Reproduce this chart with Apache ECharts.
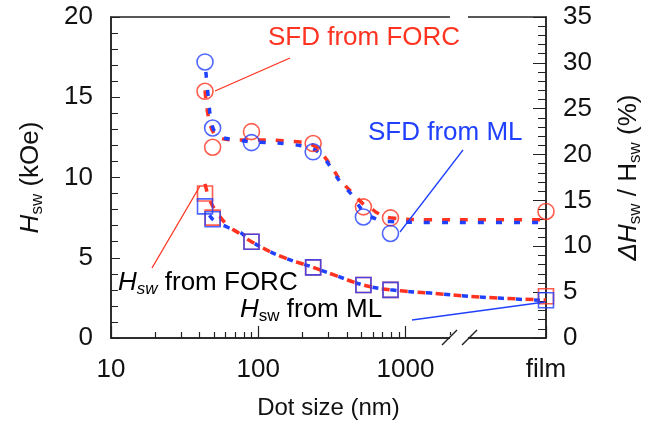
<html>
<head>
    <meta charset="utf-8">
    <title>Hsw vs dot size</title>
    <script src="https://cdn.jsdelivr.net/npm/echarts@6.0.0/dist/echarts.min.js"></script>
    <style>
        body { margin: 0; background: #fff; }
    </style>
</head>
<body>
    <div id="main" style="width: 672px;height:428px;"></div>
    <script type="text/javascript">
        // "film" is drawn at the right end of the log axis
        var FILM = 9000;
        var minorTicks = [20, 30, 40, 50, 60, 70, 80, 90, 200, 300, 400, 500, 600, 700, 800, 900, 2000];

        // measured points: dot size (nm)
        var dotSize = [43.5, 49, 90, 236, 518, 791, FILM];
        // Hsw (kOe) - left axis
        var hswForc = [9.0, 7.5, 6.0, 4.4, 3.3, 3.0, 2.6];
        var hswMl   = [8.2, 7.4, 6.0, 4.4, 3.3, 3.0, 2.35];
        // SFD dHsw/Hsw (%) - right axis
        var sfdForc = [26.9, 20.8, 22.5, 21.2, 14.3, 13.1, 13.8];
        var sfdMl   = [30.1, 22.9, 21.3, 20.3, 13.2, 11.4, null];

        // dashed guide curves
        var hswFitForcX = [43.5, 46, 50, 62, 72, 90, 141, 236, 334, 518, 791, 1480, 3240, FILM];
        var hswFitForcY = [9.6, 8.8, 8.1, 7.0, 6.6, 6.0, 5.1, 4.4, 3.9, 3.3, 3.0, 2.8, 2.55, 2.37];
        var hswFitMlX = [43.5, 49, 62, 75, 90, 141, 236, 334, 518, 791, 1480, 3240, FILM];
        var hswFitMlY = [8.2, 7.4, 6.9, 6.6, 6.0, 5.1, 4.4, 3.9, 3.3, 3.0, 2.8, 2.55, 2.33];
        var sfdFitForcX = [43.5, 46, 50, 55, 70, 90, 150, 236, 280, 325, 361, 443, 518, 576, 650, 791, 1500, 3000, FILM];
        var sfdFitForcY = [27.0, 24.0, 22.3, 21.8, 21.6, 21.6, 21.5, 21.0, 19.8, 18.3, 17.2, 15.7, 14.6, 14.2, 13.6, 13.1, 12.9, 12.9, 12.9];
        var sfdFitMlX = [43.5, 46, 49, 55, 70, 90, 150, 236, 280, 325, 361, 443, 518, 650, 791, 1500, 3000, FILM];
        var sfdFitMlY = [30.1, 26.0, 23.0, 22.0, 21.6, 21.4, 21.2, 20.6, 19.6, 18.1, 17.0, 15.4, 13.8, 12.9, 12.7, 12.6, 12.6, 12.6];

        var RED = '#ff3320';
        var BLUE = '#2040ff';
        var FONT = 'Liberation Sans, Arial, sans-serif';

        function pairs(xs, ys) {
            var out = [];
            for (var i = 0; i < xs.length; i++) {
                if (ys[i] != null) out.push([xs[i], ys[i]]);
            }
            return out;
        }

        function sub(color, italic) {
            return { fontSize: 17, fontFamily: FONT, fontStyle: italic ? 'italic' : 'normal', color: color, lineHeight: 8, verticalAlign: 'bottom' };
        }
        function big(color, italic) {
            return { fontSize: 26, fontFamily: FONT, fontStyle: italic ? 'italic' : 'normal', color: color, lineHeight: 30 };
        }

        var myChart = echarts.init(document.getElementById('main'));

        var option = {
            animation: false,
            grid: { left: 111, right: 126, top: 17, bottom: 90, show: true, borderColor: '#222', borderWidth: 1.5 },
            xAxis: [{
                type: 'log', min: 10, max: FILM, logBase: 10,
                name: 'Dot size (nm)', nameLocation: 'middle', nameGap: 58,
                nameTextStyle: { fontSize: 24, fontFamily: FONT, color: '#111' },
                axisLine: { show: true, onZero: false, lineStyle: { color: '#222', width: 1.5 } },
                axisTick: { show: true, inside: true, length: 12, lineStyle: { color: '#222', width: 1.2 } },
                axisLabel: {
                    fontSize: 26, fontFamily: FONT, color: '#111', margin: 19,
                    formatter: function (v) { return v > 5000 ? 'film' : String(Math.round(v)); }
                },
                splitLine: { show: false }
            }, {
                // minor ticks of the log axis, placed on a log10 value axis
                type: 'value', min: 1, max: Math.log10(FILM), position: 'bottom',
                axisLine: { show: false, onZero: false },
                axisTick: { show: true, inside: true, length: 6, customValues: minorTicks.map(Math.log10),
                            lineStyle: { color: '#222', width: 1.2 } },
                axisLabel: { show: false },
                splitLine: { show: false }
            }],
            yAxis: [{
                type: 'value', min: 0, max: 20, interval: 5,
                name: '{h|H}{s|sw}{n| (kOe)}', nameLocation: 'middle', nameGap: 65, nameRotate: 90,
                nameTextStyle: { rich: { h: big('#111', true), s: sub('#111', false), n: big('#111', false) } },
                axisLine: { show: true, lineStyle: { color: '#222', width: 1.5 } },
                axisTick: { show: true, inside: true, length: 9, lineStyle: { color: '#222' } },
                minorTick: { show: true, splitNumber: 5, length: 7, lineStyle: { color: '#222' } },
                axisLabel: { fontSize: 26, fontFamily: FONT, color: '#111', margin: 18 },
                splitLine: { show: false }
            }, {
                type: 'value', min: 0, max: 35, interval: 5, position: 'right',
                name: '{h|ΔH}{s|sw}{n| / H}{s|sw}{n| (%)}', nameLocation: 'middle', nameGap: 68, nameRotate: 90,
                nameTextStyle: { rich: { h: big('#111', true), s: sub('#111', false), n: big('#111', false) } },
                axisLine: { show: true, lineStyle: { color: '#222', width: 1.5 } },
                axisTick: { show: true, inside: true, length: 13, lineStyle: { color: '#222' } },
                minorTick: { show: true, splitNumber: 5, length: 8, lineStyle: { color: '#222' } },
                axisLabel: { fontSize: 26, fontFamily: FONT, color: '#111', margin: 17 },
                splitLine: { show: false }
            }],
            series: [
                // dashed guide curves
                { type: 'line', yAxisIndex: 1, data: pairs(sfdFitForcX, sfdFitForcY), smooth: 0.4, symbol: 'none',
                  lineStyle: { color: RED, width: 3.5, type: [8, 10] }, z: 2 },
                { type: 'line', yAxisIndex: 1, data: pairs(sfdFitMlX, sfdFitMlY), smooth: 0.4, symbol: 'none',
                  lineStyle: { color: BLUE, width: 3.5, type: [6, 12], dashOffset: 8 }, z: 3 },
                { type: 'line', yAxisIndex: 0, data: pairs(hswFitForcX, hswFitForcY), smooth: 0.4, symbol: 'none',
                  lineStyle: { color: RED, width: 3.5, type: [8, 10] }, z: 2 },
                { type: 'line', yAxisIndex: 0, data: pairs(hswFitMlX, hswFitMlY), smooth: 0.4, symbol: 'none',
                  lineStyle: { color: BLUE, width: 3.5, type: [6, 12], dashOffset: 8 }, z: 3 },
                // markers
                { type: 'scatter', yAxisIndex: 1, data: pairs(dotSize, sfdForc), symbol: 'circle', symbolSize: 16,
                  itemStyle: { color: 'rgba(0,0,0,0)', borderColor: RED, borderWidth: 1.6 }, z: 4 },
                { type: 'scatter', yAxisIndex: 1, data: pairs(dotSize, sfdMl), symbol: 'circle', symbolSize: 16,
                  itemStyle: { color: 'rgba(0,0,0,0)', borderColor: BLUE, borderWidth: 1.6 }, z: 5 },
                { type: 'scatter', yAxisIndex: 0, data: pairs(dotSize, hswForc), symbol: 'rect', symbolSize: 15,
                  itemStyle: { color: 'rgba(0,0,0,0)', borderColor: RED, borderWidth: 1.6 }, z: 4 },
                { type: 'scatter', yAxisIndex: 0, data: pairs(dotSize, hswMl), symbol: 'rect', symbolSize: 15,
                  itemStyle: { color: 'rgba(0,0,0,0)', borderColor: BLUE, borderWidth: 1.6 }, z: 5 }
            ],
            graphic: [
                // axis break
                { type: 'rect', shape: { x: 450, y: 13, width: 18, height: 8 }, style: { fill: '#fff' }, z: 100 },
                { type: 'rect', shape: { x: 450, y: 335, width: 18, height: 7 }, style: { fill: '#fff' }, z: 100 },
                { type: 'line', shape: { x1: 442, y1: 345, x2: 457, y2: 330 }, style: { stroke: '#222', lineWidth: 1.5 }, z: 101 },
                { type: 'line', shape: { x1: 462, y1: 345, x2: 477, y2: 330 }, style: { stroke: '#222', lineWidth: 1.5 }, z: 101 },
                // callouts
                { type: 'line', shape: { x1: 215, y1: 91, x2: 290, y2: 58 }, style: { stroke: RED, lineWidth: 1.3 }, z: 50 },
                { type: 'text', x: 268, y: 38, z: 50,
                  style: { text: 'SFD from FORC', fill: RED, font: '26px ' + FONT, verticalAlign: 'middle' } },
                { type: 'line', shape: { x1: 463, y1: 150, x2: 400, y2: 232 }, style: { stroke: BLUE, lineWidth: 1.3 }, z: 50 },
                { type: 'text', x: 368, y: 133, z: 50,
                  style: { text: 'SFD from ML', fill: BLUE, font: '26px ' + FONT, verticalAlign: 'middle' } },
                { type: 'line', shape: { x1: 152, y1: 268, x2: 200, y2: 186 }, style: { stroke: RED, lineWidth: 1.3 }, z: 50 },
                { type: 'text', x: 118, y: 283, z: 50,
                  style: { text: '{h|H}{s|sw}{n| from FORC}', verticalAlign: 'middle',
                           rich: { h: big(RED, true), s: sub(RED, true), n: big(RED, false) } } },
                { type: 'line', shape: { x1: 412, y1: 320, x2: 545, y2: 302 }, style: { stroke: BLUE, lineWidth: 1.3 }, z: 50 },
                { type: 'text', x: 240, y: 310, z: 50,
                  style: { text: '{h|H}{s|sw}{n| from ML}', verticalAlign: 'middle',
                           rich: { h: big(BLUE, true), s: sub(BLUE, false), n: big(BLUE, false) } } }
            ]
        };

        myChart.setOption(option);
    </script>
</body>
</html>
